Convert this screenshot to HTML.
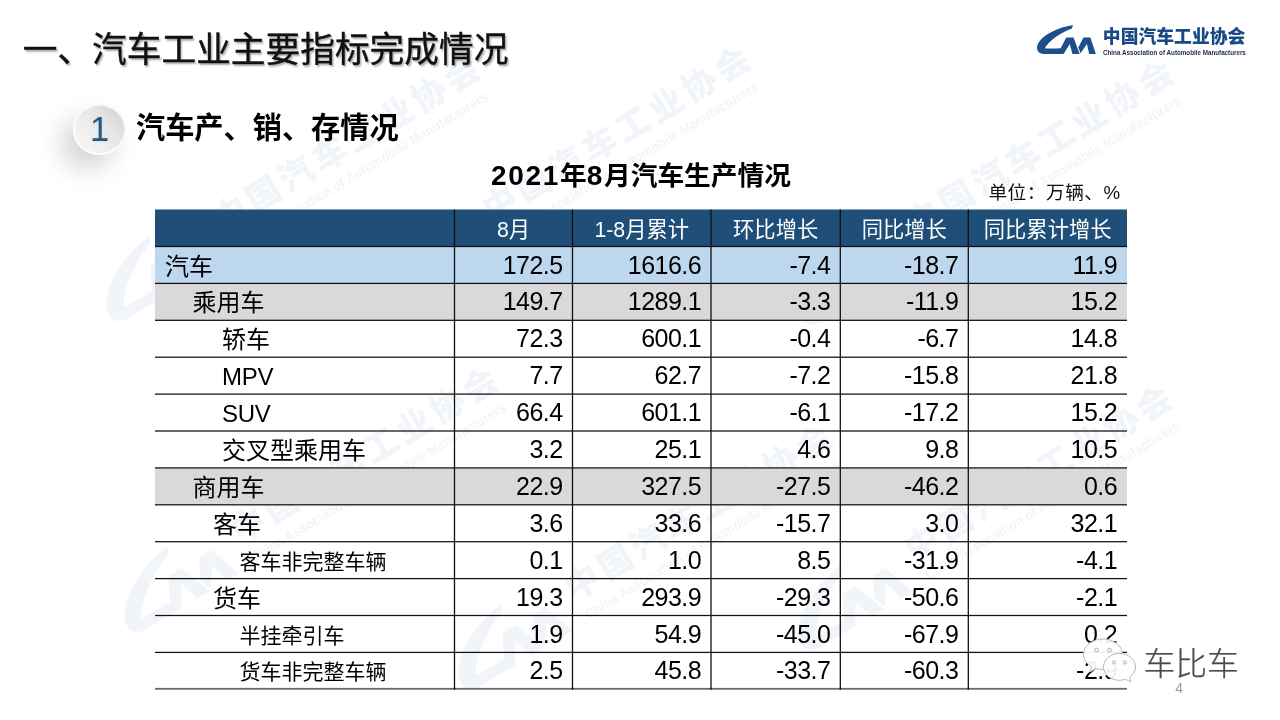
<!DOCTYPE html>
<html lang="zh-CN">
<head>
<meta charset="utf-8">
<title>汽车工业主要指标完成情况</title>
<style>
html,body{margin:0;padding:0;}
body{width:1280px;height:720px;position:relative;overflow:hidden;background:#fff;
 font-family:"Liberation Sans","Noto Sans CJK SC",sans-serif;color:#000;}
.abs{position:absolute;white-space:nowrap;}
#title{left:22.7px;top:25.2px;font-size:34.7px;line-height:50px;color:#111;-webkit-text-stroke:.4px #111;
 text-shadow:1.5px 1.5px 2px rgba(0,0,0,.35);}
#circle{left:72.9px;top:104px;width:53px;height:51px;border-radius:50%;
 background:linear-gradient(225deg,#cfcfcf 0%,#e6e6e6 40%,#fbfbfb 100%);
 box-shadow:-12px 14px 26px rgba(0,0,0,.17), inset 0 0 0 1.6px rgba(255,255,255,.92);}
#one{left:73.6px;top:103.2px;width:52px;height:52px;line-height:52px;text-align:center;font-size:34.5px;color:#2f5679;
 text-shadow:0 0 3px #bfe0f7;}
#sub{left:136px;top:106px;font-size:29.2px;line-height:44px;font-weight:bold;color:#000;}
#ttl{left:491px;top:154.3px;font-size:26.7px;line-height:44px;font-weight:bold;}
#unit{left:988.4px;top:179.2px;font-size:18.7px;line-height:28px;letter-spacing:.5px;color:#111;}
.d{letter-spacing:1.7px;font-size:28px;}
.lat{letter-spacing:-.3px;}
.th{position:absolute;text-align:center;color:#fff;font-size:21.3px;white-space:nowrap;}
.rl{position:absolute;white-space:nowrap;line-height:39.6px;height:36.85px;}
.num{position:absolute;white-space:nowrap;font-size:25px;letter-spacing:-.55px;line-height:36.9px;height:36.85px;text-align:right;}
#logotxt{left:1102.8px;top:24.2px;font-size:17.8px;line-height:26px;font-weight:900;color:#1a4a86;letter-spacing:.05px;}
#logoen{left:1103px;top:48.8px;font-size:10px;line-height:12px;font-weight:bold;color:#1c2b45;transform-origin:0 0;transform:scale(.626,.68);}
#wxt{left:1143.5px;top:642.3px;font-size:31.8px;line-height:44px;font-weight:300;color:#4a4a4a;-webkit-text-stroke:.25px #4a4a4a;letter-spacing:0px;
 text-shadow:1px 1px 1px rgba(255,255,255,.9);}
#pg{left:1175.3px;top:680.5px;font-size:14px;line-height:14px;color:#9a9a9a;}
</style>
</head>
<body>
<!-- watermarks -->
<svg class="abs" style="left:0;top:0" width="1280" height="720" viewBox="0 0 1280 720">
<g opacity="0.06" font-family="'Liberation Sans','Noto Sans CJK SC',sans-serif" fill="#1d5aa8" font-weight="900">
<g transform="translate(347,143) rotate(-31) scale(2.09) translate(-1175,-36)"><g transform="translate(1028,15) scale(0.0764)"><path d="M565,133 C400,150 150,250 95,400 C80,470 120,510 180,510 L440,510 L400,440 L215,440 C190,440 195,425 215,402 C290,310 420,222 545,180 Z"/><path d="M440,510 L360,440 L400,440 L475,295 L570,295 L650,510 L555,510 L520,380 Z"/><path d="M632,425 L700,295 L790,295 L862,510 L775,510 L745,380 L662,500 Z"/></g><text x="1101.4" y="42.2" font-size="16.4" letter-spacing="2.1">中国汽车工业协会</text><text x="1103" y="53.2" font-size="6.7" textLength="141" lengthAdjust="spacingAndGlyphs">China Association of Automobile Manufacturers</text></g>
<g transform="translate(617,133) rotate(-31) scale(2.09) translate(-1175,-36)"><g transform="translate(1028,15) scale(0.0764)"><path d="M565,133 C400,150 150,250 95,400 C80,470 120,510 180,510 L440,510 L400,440 L215,440 C190,440 195,425 215,402 C290,310 420,222 545,180 Z"/><path d="M440,510 L360,440 L400,440 L475,295 L570,295 L650,510 L555,510 L520,380 Z"/><path d="M632,425 L700,295 L790,295 L862,510 L775,510 L745,380 L662,500 Z"/></g><text x="1101.4" y="42.2" font-size="16.4" letter-spacing="2.1">中国汽车工业协会</text><text x="1103" y="53.2" font-size="6.7" textLength="141" lengthAdjust="spacingAndGlyphs">China Association of Automobile Manufacturers</text></g>
<g transform="translate(1040.4,146.8) rotate(-31) scale(2.09) translate(-1175,-36)"><g transform="translate(1028,15) scale(0.0764)"><path d="M565,133 C400,150 150,250 95,400 C80,470 120,510 180,510 L440,510 L400,440 L215,440 C190,440 195,425 215,402 C290,310 420,222 545,180 Z"/><path d="M440,510 L360,440 L400,440 L475,295 L570,295 L650,510 L555,510 L520,380 Z"/><path d="M632,425 L700,295 L790,295 L862,510 L775,510 L745,380 L662,500 Z"/></g><text x="1101.4" y="42.2" font-size="16.4" letter-spacing="2.1">中国汽车工业协会</text><text x="1103" y="53.2" font-size="6.7" textLength="141" lengthAdjust="spacingAndGlyphs">China Association of Automobile Manufacturers</text></g>
<g transform="translate(365,454) rotate(-31) scale(2.09) translate(-1175,-36)"><g transform="translate(1028,15) scale(0.0764)"><path d="M565,133 C400,150 150,250 95,400 C80,470 120,510 180,510 L440,510 L400,440 L215,440 C190,440 195,425 215,402 C290,310 420,222 545,180 Z"/><path d="M440,510 L360,440 L400,440 L475,295 L570,295 L650,510 L555,510 L520,380 Z"/><path d="M632,425 L700,295 L790,295 L862,510 L775,510 L745,380 L662,500 Z"/></g><text x="1101.4" y="42.2" font-size="16.4" letter-spacing="2.1">中国汽车工业协会</text><text x="1103" y="53.2" font-size="6.7" textLength="141" lengthAdjust="spacingAndGlyphs">China Association of Automobile Manufacturers</text></g>
<g transform="translate(699,511) rotate(-31) scale(2.09) translate(-1175,-36)"><g transform="translate(1028,15) scale(0.0764)"><path d="M565,133 C400,150 150,250 95,400 C80,470 120,510 180,510 L440,510 L400,440 L215,440 C190,440 195,425 215,402 C290,310 420,222 545,180 Z"/><path d="M440,510 L360,440 L400,440 L475,295 L570,295 L650,510 L555,510 L520,380 Z"/><path d="M632,425 L700,295 L790,295 L862,510 L775,510 L745,380 L662,500 Z"/></g><text x="1101.4" y="42.2" font-size="16.4" letter-spacing="2.1">中国汽车工业协会</text><text x="1103" y="53.2" font-size="6.7" textLength="141" lengthAdjust="spacingAndGlyphs">China Association of Automobile Manufacturers</text></g>
<g transform="translate(1039,472) rotate(-31) scale(2.09) translate(-1175,-36)"><g transform="translate(1028,15) scale(0.0764)"><path d="M565,133 C400,150 150,250 95,400 C80,470 120,510 180,510 L440,510 L400,440 L215,440 C190,440 195,425 215,402 C290,310 420,222 545,180 Z"/><path d="M440,510 L360,440 L400,440 L475,295 L570,295 L650,510 L555,510 L520,380 Z"/><path d="M632,425 L700,295 L790,295 L862,510 L775,510 L745,380 L662,500 Z"/></g><text x="1101.4" y="42.2" font-size="16.4" letter-spacing="2.1">中国汽车工业协会</text><text x="1103" y="53.2" font-size="6.7" textLength="141" lengthAdjust="spacingAndGlyphs">China Association of Automobile Manufacturers</text></g>
</g>
</svg>

<div class="abs" id="title">一、汽车工业主要指标完成情况</div>
<div class="abs" id="circle"></div>
<div class="abs" id="one">1</div>
<div class="abs" id="sub">汽车产、销、存情况</div>
<div class="abs" id="ttl"><span class="d">2021</span>年<span class="d">8</span>月汽车生产情况</div>
<div class="abs" id="unit">单位：万辆、%</div>

<!-- logo -->
<svg class="abs" style="left:1030px;top:15px" width="80" height="55" viewBox="0 0 1047 720" fill="#1d4f8b">
<path d="M565,133 C400,150 150,250 95,400 C80,470 120,510 180,510 L440,510 L400,440 L215,440 C190,440 195,425 215,402 C290,310 420,222 545,180 Z"/>
<path d="M440,510 L360,440 L400,440 L475,295 L570,295 L650,510 L555,510 L520,380 Z"/>
<path d="M632,425 L700,295 L790,295 L862,510 L775,510 L745,380 L662,500 Z"/>
</svg>
<div class="abs" id="logotxt">中国汽车工业协会</div>
<div class="abs" id="logoen">China Association of Automobile Manufacturers</div>

<!-- table -->
<svg class="abs" style="left:0;top:0" width="1280" height="720" viewBox="0 0 1280 720">
<rect x="155" y="209.5" width="972" height="37.0" fill="#1F4E79"/>
<rect x="155" y="246.50" width="972" height="36.9" fill="#BDD7EE"/>
<rect x="155" y="283.40" width="972" height="36.9" fill="#D9D9D9"/>
<rect x="155" y="467.90" width="972" height="36.9" fill="#D9D9D9"/>
<rect x="155" y="245.88" width="972" height="1.25" fill="#111"/>
<rect x="155" y="282.78" width="972" height="1.25" fill="#111"/>
<rect x="155" y="319.68" width="972" height="1.25" fill="#111"/>
<rect x="155" y="356.58" width="972" height="1.25" fill="#111"/>
<rect x="155" y="393.48" width="972" height="1.25" fill="#111"/>
<rect x="155" y="430.38" width="972" height="1.25" fill="#111"/>
<rect x="155" y="467.28" width="972" height="1.25" fill="#111"/>
<rect x="155" y="504.18" width="972" height="1.25" fill="#111"/>
<rect x="155" y="541.08" width="972" height="1.25" fill="#111"/>
<rect x="155" y="577.98" width="972" height="1.25" fill="#111"/>
<rect x="155" y="614.88" width="972" height="1.25" fill="#111"/>
<rect x="155" y="651.78" width="972" height="1.25" fill="#111"/>
<rect x="155" y="687.90" width="972" height="1.8" fill="#6a6a6a"/>
<rect x="453.85" y="209.5" width="1.3" height="480.40" fill="#111"/>
<rect x="571.85" y="209.5" width="1.3" height="480.40" fill="#111"/>
<rect x="710.35" y="209.5" width="1.3" height="480.40" fill="#111"/>
<rect x="839.65" y="209.5" width="1.3" height="480.40" fill="#111"/>
<rect x="967.65" y="209.5" width="1.3" height="480.40" fill="#111"/>
</svg>
<div class="th" style="left:454.5px;width:118.0px;top:209.5px;height:37.0px;line-height:40.0px">8月</div>
<div class="th" style="left:572.5px;width:138.5px;top:209.5px;height:37.0px;line-height:40.0px">1-8月累计</div>
<div class="th" style="left:711px;width:129.29999999999995px;top:209.5px;height:37.0px;line-height:40.0px">环比增长</div>
<div class="th" style="left:840.3px;width:128.0px;top:209.5px;height:37.0px;line-height:40.0px">同比增长</div>
<div class="th" style="left:968.3px;width:158.70000000000005px;top:209.5px;height:37.0px;line-height:40.0px">同比累计增长</div>
<div class="rl" style="left:165px;top:246.50px;font-size:24px">汽车</div>
<div class="num" style="right:717.5px;top:246.50px">172.5</div>
<div class="num" style="right:579px;top:246.50px">1616.6</div>
<div class="num" style="right:449.70000000000005px;top:246.50px">-7.4</div>
<div class="num" style="right:321.70000000000005px;top:246.50px">-18.7</div>
<div class="num" style="right:163px;top:246.50px">11.9</div>
<div class="rl" style="left:192.5px;top:283.40px;font-size:24px">乘用车</div>
<div class="num" style="right:717.5px;top:283.40px">149.7</div>
<div class="num" style="right:579px;top:283.40px">1289.1</div>
<div class="num" style="right:449.70000000000005px;top:283.40px">-3.3</div>
<div class="num" style="right:321.70000000000005px;top:283.40px">-11.9</div>
<div class="num" style="right:163px;top:283.40px">15.2</div>
<div class="rl" style="left:222px;top:320.30px;font-size:24px">轿车</div>
<div class="num" style="right:717.5px;top:320.30px">72.3</div>
<div class="num" style="right:579px;top:320.30px">600.1</div>
<div class="num" style="right:449.70000000000005px;top:320.30px">-0.4</div>
<div class="num" style="right:321.70000000000005px;top:320.30px">-6.7</div>
<div class="num" style="right:163px;top:320.30px">14.8</div>
<div class="rl" style="left:222px;top:357.20px;font-size:24px"><span class="lat">MPV</span></div>
<div class="num" style="right:717.5px;top:357.20px">7.7</div>
<div class="num" style="right:579px;top:357.20px">62.7</div>
<div class="num" style="right:449.70000000000005px;top:357.20px">-7.2</div>
<div class="num" style="right:321.70000000000005px;top:357.20px">-15.8</div>
<div class="num" style="right:163px;top:357.20px">21.8</div>
<div class="rl" style="left:222px;top:394.10px;font-size:24px"><span class="lat">SUV</span></div>
<div class="num" style="right:717.5px;top:394.10px">66.4</div>
<div class="num" style="right:579px;top:394.10px">601.1</div>
<div class="num" style="right:449.70000000000005px;top:394.10px">-6.1</div>
<div class="num" style="right:321.70000000000005px;top:394.10px">-17.2</div>
<div class="num" style="right:163px;top:394.10px">15.2</div>
<div class="rl" style="left:222px;top:431.00px;font-size:24px">交叉型乘用车</div>
<div class="num" style="right:717.5px;top:431.00px">3.2</div>
<div class="num" style="right:579px;top:431.00px">25.1</div>
<div class="num" style="right:449.70000000000005px;top:431.00px">4.6</div>
<div class="num" style="right:321.70000000000005px;top:431.00px">9.8</div>
<div class="num" style="right:163px;top:431.00px">10.5</div>
<div class="rl" style="left:192.5px;top:467.90px;font-size:24px">商用车</div>
<div class="num" style="right:717.5px;top:467.90px">22.9</div>
<div class="num" style="right:579px;top:467.90px">327.5</div>
<div class="num" style="right:449.70000000000005px;top:467.90px">-27.5</div>
<div class="num" style="right:321.70000000000005px;top:467.90px">-46.2</div>
<div class="num" style="right:163px;top:467.90px">0.6</div>
<div class="rl" style="left:213px;top:504.80px;font-size:24px">客车</div>
<div class="num" style="right:717.5px;top:504.80px">3.6</div>
<div class="num" style="right:579px;top:504.80px">33.6</div>
<div class="num" style="right:449.70000000000005px;top:504.80px">-15.7</div>
<div class="num" style="right:321.70000000000005px;top:504.80px">3.0</div>
<div class="num" style="right:163px;top:504.80px">32.1</div>
<div class="rl" style="left:239.5px;top:541.70px;font-size:21px">客车非完整车辆</div>
<div class="num" style="right:717.5px;top:541.70px">0.1</div>
<div class="num" style="right:579px;top:541.70px">1.0</div>
<div class="num" style="right:449.70000000000005px;top:541.70px">8.5</div>
<div class="num" style="right:321.70000000000005px;top:541.70px">-31.9</div>
<div class="num" style="right:163px;top:541.70px">-4.1</div>
<div class="rl" style="left:213px;top:578.60px;font-size:24px">货车</div>
<div class="num" style="right:717.5px;top:578.60px">19.3</div>
<div class="num" style="right:579px;top:578.60px">293.9</div>
<div class="num" style="right:449.70000000000005px;top:578.60px">-29.3</div>
<div class="num" style="right:321.70000000000005px;top:578.60px">-50.6</div>
<div class="num" style="right:163px;top:578.60px">-2.1</div>
<div class="rl" style="left:239.5px;top:615.50px;font-size:21px">半挂牵引车</div>
<div class="num" style="right:717.5px;top:615.50px">1.9</div>
<div class="num" style="right:579px;top:615.50px">54.9</div>
<div class="num" style="right:449.70000000000005px;top:615.50px">-45.0</div>
<div class="num" style="right:321.70000000000005px;top:615.50px">-67.9</div>
<div class="num" style="right:163px;top:615.50px">0.2</div>
<div class="rl" style="left:239.5px;top:652.40px;font-size:21px">货车非完整车辆</div>
<div class="num" style="right:717.5px;top:652.40px">2.5</div>
<div class="num" style="right:579px;top:652.40px">45.8</div>
<div class="num" style="right:449.70000000000005px;top:652.40px">-33.7</div>
<div class="num" style="right:321.70000000000005px;top:652.40px">-60.3</div>
<div class="num" style="right:163px;top:652.40px">-2.9</div>

<!-- wechat watermark -->
<svg class="abs" style="left:1060px;top:610px" width="220" height="110" viewBox="0 0 220 110">
<g fill="#fff" fill-opacity=".93" stroke="#b8b8b8" stroke-width="1">
<path d="M43,29 C54,29 62.5,36 62.5,44.5 C62.5,53 54,59.5 43,59.5 C40.5,59.5 38,59.1 36,58.5 L30,62 L31.5,56.5 C26.5,53.8 23.5,49.5 23.5,44.5 C23.5,36 32,29 43,29 Z"/>
<path d="M59.5,43.5 C68.5,43.5 75.5,49.5 75.5,57 C75.5,61.2 73.2,64.8 69.5,67.3 L71,72 L65.5,69.3 C63.6,69.9 61.6,70.3 59.5,70.3 C50.5,70.3 43.5,64.4 43.5,57 C43.5,49.5 50.5,43.5 59.5,43.5 Z"/>
</g>
<g fill="#fff" stroke="#999" stroke-width=".8">
<circle cx="36.5" cy="40" r="1.8"/><circle cx="49.5" cy="40" r="1.8"/>
<circle cx="54" cy="52.5" r="1.6"/><circle cx="65" cy="52.5" r="1.6"/>
</g>
</svg>
<div class="abs" id="wxt">车比车</div>
<div class="abs" id="pg">4</div>
</body>
</html>
